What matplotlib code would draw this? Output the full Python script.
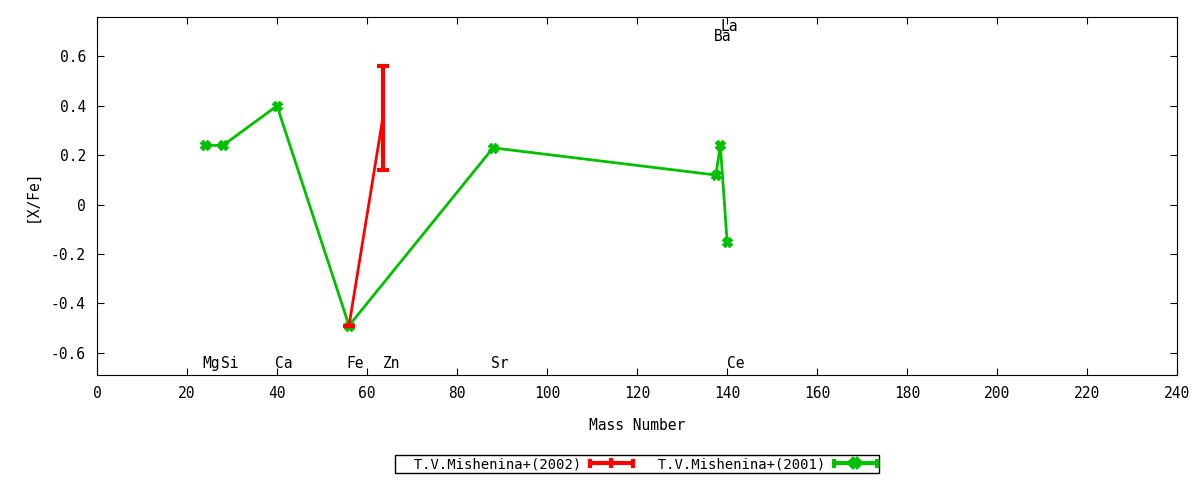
import matplotlib
matplotlib.use('Agg')
import matplotlib.pyplot as plt
from matplotlib.legend_handler import HandlerBase
from matplotlib.lines import Line2D

# T.V.Mishenina+(2001)
elem_2001 = ['Mg', 'Si', 'Ca', 'Fe', 'Sr', 'Ba', 'La', 'Ce']
mass_2001 = [24, 28, 40, 56, 88, 137.5, 138.5, 140]
xfe_2001 = [0.24, 0.24, 0.40, -0.49, 0.23, 0.12, 0.24, -0.15]

# T.V.Mishenina+(2002)
elem_2002 = ['Fe', 'Zn']
mass_2002 = [56, 63.5]
xfe_2002 = [-0.49, 0.35]
err_2002 = [0.0, 0.21]

# element labels (name, mass, y)
lab_names = ['Mg', 'Si', 'Ca', 'Fe', 'Zn', 'Sr', 'Ba', 'La', 'Ce']
lab_mass = [23.5, 27.5, 39.5, 55.5, 63.5, 87.5, 137, 138.5, 140]
lab_y = [-0.645, -0.645, -0.645, -0.645, -0.645, -0.645, 0.68, 0.72, -0.645]

red = '#ff0000'
green = '#00c000'


# gnuplot-like key sample: line with end caps and a point in the middle
class CapHandler(HandlerBase):
    def __init__(self, color, marker, ms):
        super().__init__()
        self.color, self.marker, self.ms = color, marker, ms

    def create_artists(self, legend, orig_handle, xdescent, ydescent,
                       width, height, fontsize, trans):
        y = height / 2 - ydescent
        x0, x1 = -xdescent, width - xdescent
        c = height * 0.3
        arts = [Line2D([x0, x1], [y, y], color=self.color, lw=3),
                Line2D([x0, x0], [y - c, y + c], color=self.color, lw=3),
                Line2D([x1, x1], [y - c, y + c], color=self.color, lw=3),
                Line2D([(x0 + x1) / 2], [y], color=self.color, marker=self.marker,
                       ms=self.ms, mew=3, ls='none')]
        for a in arts:
            a.set_transform(trans)
        return arts


plt.rcParams['font.family'] = ['DejaVu Sans Mono']
plt.rcParams['font.size'] = 10

fig = plt.figure(figsize=(12, 4.8), dpi=100)
ax = fig.add_axes([0.0808, 0.2187, 0.9002, 0.7459])

h_red = ax.errorbar(mass_2002, xfe_2002, yerr=err_2002, color=red, lw=2,
                    elinewidth=3, capsize=4, capthick=3, zorder=3)
h_green, = ax.plot(mass_2001, xfe_2001, color=green, lw=2, marker='X', ms=7,
                   zorder=2)

for n, m, y in zip(lab_names, lab_mass, lab_y):
    ax.text(m, y, n, ha='left', va='center', fontsize=10.5)

ax.set_xlim(0, 240)
ax.set_ylim(-0.69, 0.76)
ax.set_xticks(range(0, 241, 20))
ax.set_yticks([-0.6, -0.4, -0.2, 0, 0.2, 0.4, 0.6])
ax.set_yticklabels(['-0.6', '-0.4', '-0.2', '0', '0.2', '0.4', '0.6'])
ax.tick_params(direction='in', top=True, right=True, length=5, pad=8,
               labelsize=10.5)
ax.set_xlabel('Mass Number', labelpad=12, fontsize=10.5)
ax.set_ylabel('[X/Fe]', labelpad=8, fontsize=10.5)

leg = ax.legend([h_red, h_green],
                ['  T.V.Mishenina+(2002)', '  T.V.Mishenina+(2001)'],
                handler_map={h_red: CapHandler(red, '|', 7),
                             h_green: CapHandler(green, 'X', 6)},
                loc='upper center', bbox_to_anchor=(0.5, -0.224), ncol=2,
                markerfirst=False, fancybox=False, frameon=True,
                edgecolor='black', framealpha=1, borderpad=0.15,
                borderaxespad=0, handlelength=3.1, columnspacing=0.6,
                handletextpad=0.6, fontsize=10)
leg.get_frame().set_linewidth(1)

fig.savefig('out.png', dpi=100)
